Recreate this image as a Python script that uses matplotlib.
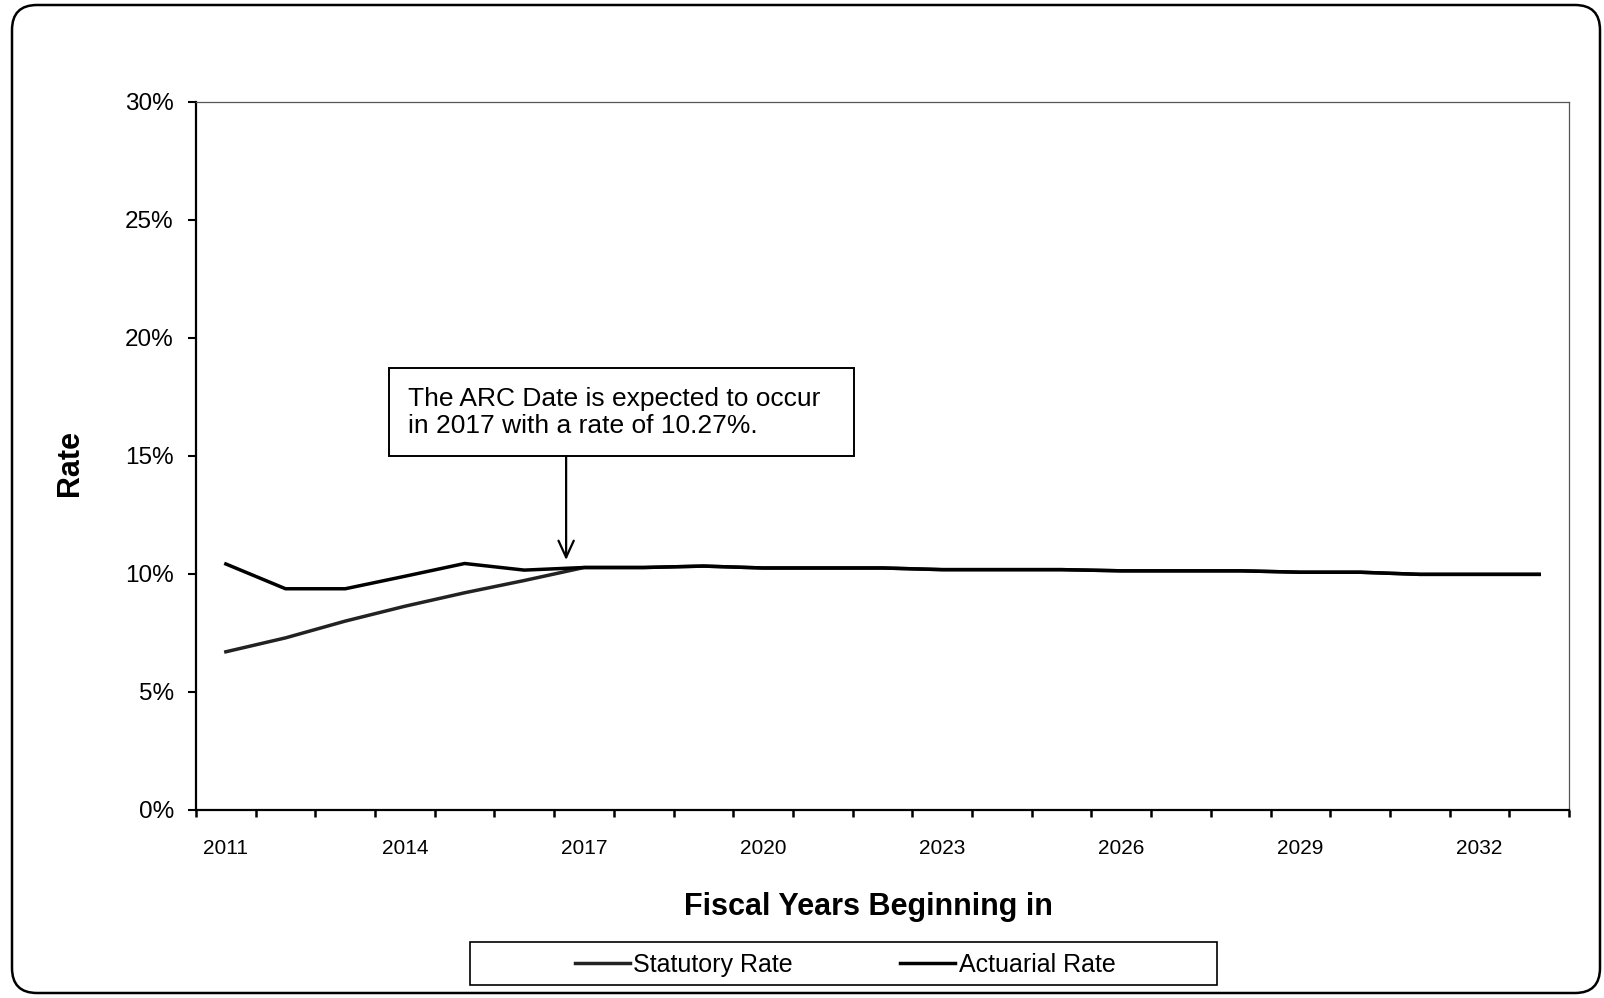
import matplotlib
matplotlib.use("Agg")
import matplotlib.pyplot as plt
import matplotlib.ticker as ticker
from matplotlib.patches import FancyBboxPatch, Rectangle

plt.rcParams['font.family'] = ['Liberation Sans', 'DejaVu Sans']

years = list(range(2011, 2034))
year_labels = ['2011', '2014', '2017', '2020', '2023', '2026', '2029', '2032']
statutory = [6.70, 7.29, 8.00, 8.63, 9.20, 9.72, 10.27, 10.27, 10.33, 10.25, 10.25, 10.25,
             10.18, 10.18, 10.18, 10.13, 10.13, 10.13, 10.07, 10.07, 9.98, 9.98, 9.98]
actuarial = [10.42, 9.37, 9.37, 9.90, 10.44, 10.16, 10.27, 10.27, 10.33, 10.25, 10.25, 10.25,
             10.18, 10.18, 10.18, 10.13, 10.13, 10.13, 10.07, 10.07, 9.98, 9.98, 9.98]
arc_year = 2017
arc_rate = 10.27
note = "The ARC Date is expected to occur  \nin %d with a rate of %.2f%%." % (arc_year, arc_rate)

fig = plt.figure(figsize=(16.04, 9.98), dpi=100)
ax = fig.add_axes([0.1222, 0.1884, 0.9782 - 0.1222, 0.8981 - 0.1884])

ax.plot(years, statutory, color='#222222', lw=2.5, label='Statutory Rate', solid_joinstyle='round')
ax.plot(years, actuarial, color='black', lw=2.5, label='Actuarial Rate', solid_joinstyle='round')

ax.set_xlim(years[0] - 0.5, years[-1] + 0.5)
ax.set_ylim(0, 30)
ax.yaxis.set_major_locator(ticker.MultipleLocator(5))
ax.yaxis.set_major_formatter(ticker.PercentFormatter(xmax=100, decimals=0))

# category-style axis: labels every 3 years, ticks between categories
ax.set_xticks([int(s) for s in year_labels])
ax.set_xticklabels(year_labels)
ax.set_xticks([y - 0.5 for y in years] + [years[-1] + 0.5], minor=True)
ax.tick_params(axis='x', which='major', length=0, pad=21, labelsize=15)
ax.tick_params(axis='x', which='minor', length=5, width=1.8, direction='out')
ax.tick_params(axis='y', which='major', length=6, width=1.5, pad=10, labelsize=17.5)

for side in ['left', 'bottom']:
    ax.spines[side].set_linewidth(1.6)
for side in ['top', 'right']:
    ax.spines[side].set_linewidth(0.9)
    ax.spines[side].set_color('#555555')

ax.set_ylabel('Rate', fontsize=22, fontweight='bold', va='center')
ax.yaxis.set_label_coords(-0.092, 0.49)
ax.set_xlabel('Fiscal Years Beginning in', fontsize=22, fontweight='bold')
ax.xaxis.set_label_coords(0.49, -0.137)
ax.xaxis.label.set_va('center')

# note box with arrow down to the ARC point
ax.text(2014.05, 16.85, note, fontsize=19, ha='left', va='center', linespacing=1.15,
        bbox=dict(boxstyle='square,pad=0.7', fc='white', ec='black', lw=1.4))
ax.annotate('', xy=(arc_year - 0.3, arc_rate + 0.2), xytext=(arc_year - 0.3, 15.1),
            arrowprops=dict(arrowstyle='->,head_length=1.2,head_width=0.55', color='black', lw=1.6))

# legend below the axis title, inside its own frame
leg = fig.legend(loc='center', bbox_to_anchor=(0.527, 0.033), ncol=2, frameon=False,
                 fontsize=18, handlelength=2.2, handletextpad=0.15, columnspacing=4.3)
fig.add_artist(Rectangle((470 / 1604, 13 / 998), (1217 - 470) / 1604, 43 / 998,
                         transform=fig.transFigure, fill=False, ec='black', lw=1.2))

# rounded page border
fig.add_artist(FancyBboxPatch((0.12, 0.05), 15.88, 9.88, boxstyle='round,pad=0,rounding_size=0.25',
                              transform=fig.dpi_scale_trans, fill=False, ec='black', lw=1.8))

fig.savefig('out.png', dpi=100)
